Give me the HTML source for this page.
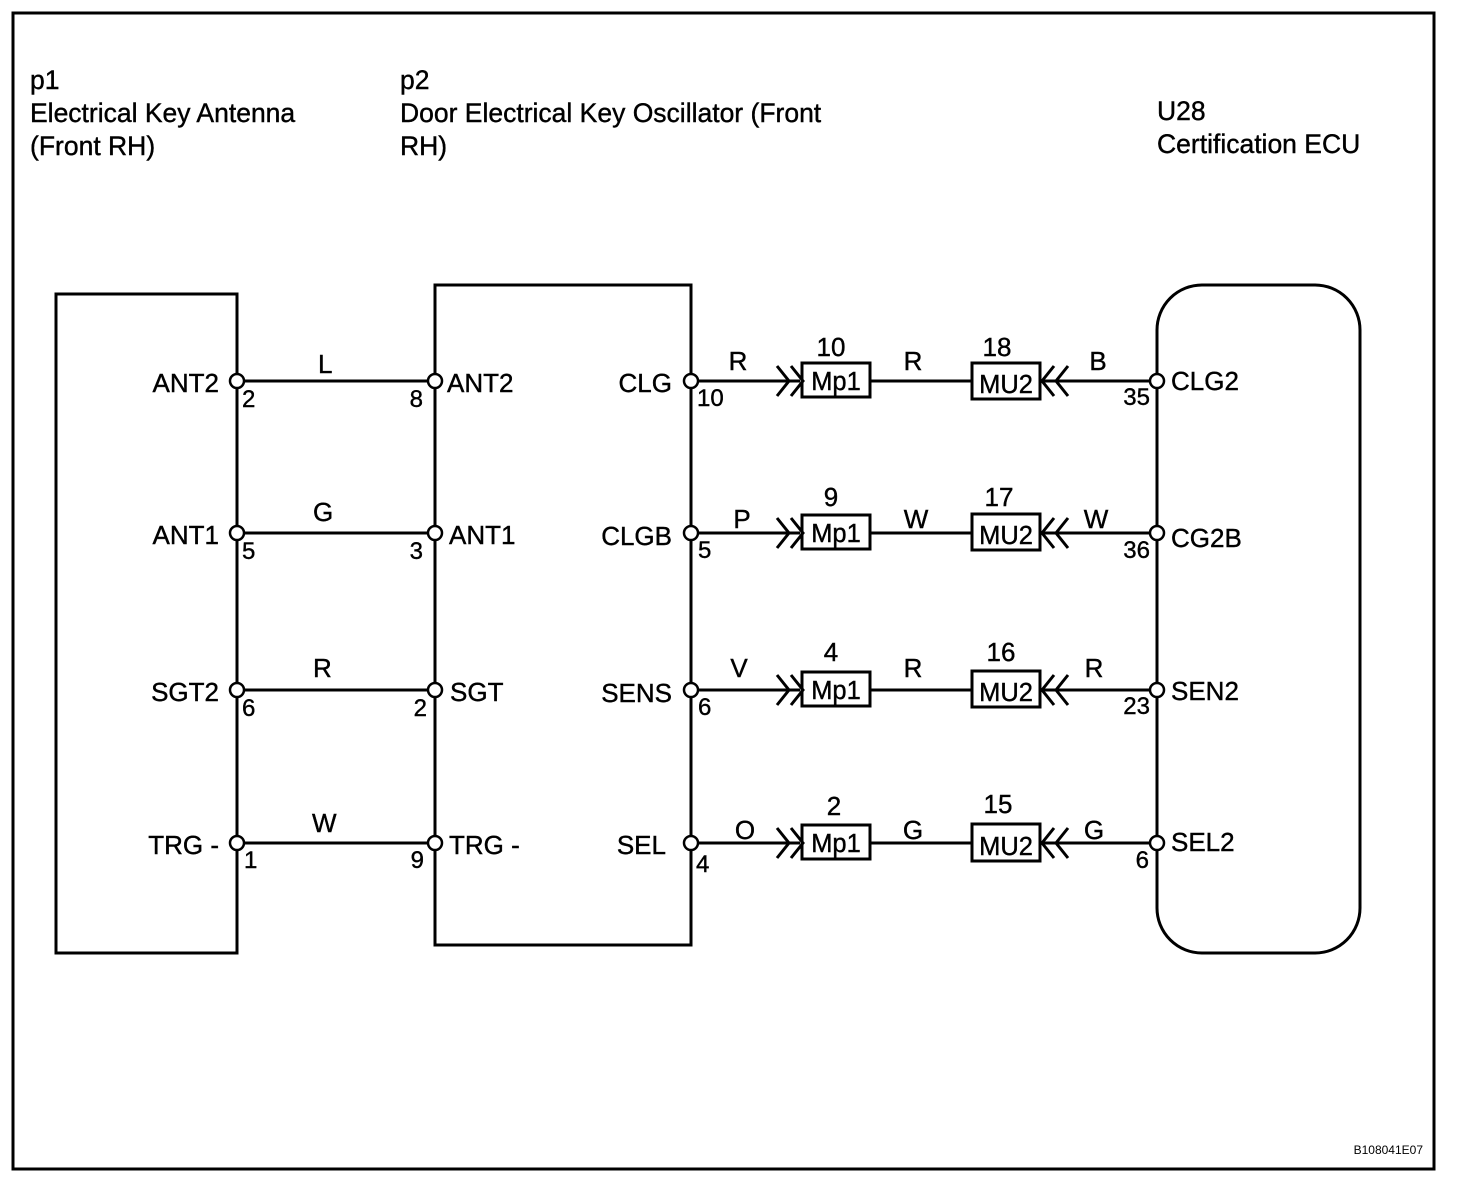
<!DOCTYPE html>
<html><head><meta charset="utf-8"><style>
html,body{margin:0;padding:0;background:#fff;}
svg{display:block;}
text{font-family:"Liberation Sans",Arial,sans-serif;fill:#000;stroke:#000;stroke-width:0.4;}
</style></head><body>
<svg width="1472" height="1190" viewBox="0 0 1472 1190" xmlns="http://www.w3.org/2000/svg">
<rect x="13" y="13" width="1421" height="1156" fill="none" stroke="#000" stroke-width="3"/>
<g font-size="26.5">
<text x="30" y="89">p1</text>
<text x="30" y="122">Electrical Key Antenna</text>
<text x="30" y="155">(Front RH)</text>
<text x="400" y="89">p2</text>
<text x="400" y="122">Door Electrical Key Oscillator (Front</text>
<text x="400" y="155">RH)</text>
<text x="1157" y="120">U28</text>
<text x="1157" y="153">Certification ECU</text>
</g>
<g fill="none" stroke="#000" stroke-width="3">
<rect x="56" y="294" width="181" height="659"/>
<rect x="435" y="285" width="256" height="660"/>
<rect x="1157" y="285" width="203" height="668" rx="45" ry="45"/>
</g>
<g stroke="#000" stroke-width="3" fill="none">
<line x1="237" y1="381" x2="435" y2="381"/>
<line x1="237" y1="533" x2="435" y2="533"/>
<line x1="237" y1="690" x2="435" y2="690"/>
<line x1="237" y1="843" x2="435" y2="843"/>
</g>
<g font-size="26">
<text x="318" y="373">L</text><text x="313" y="521">G</text><text x="313" y="677">R</text><text x="312" y="832">W</text>
<text x="219" y="392" text-anchor="end">ANT2</text>
<text x="219" y="544" text-anchor="end">ANT1</text>
<text x="219" y="701" text-anchor="end">SGT2</text>
<text x="219" y="854" text-anchor="end">TRG -</text>
<text x="447" y="392">ANT2</text>
<text x="449" y="544">ANT1</text>
<text x="450" y="701">SGT</text>
<text x="449" y="854">TRG -</text>
<text x="672" y="392" text-anchor="end">CLG</text>
<text x="672" y="545" text-anchor="end">CLGB</text>
<text x="672" y="702" text-anchor="end">SENS</text>
<text x="666" y="854" text-anchor="end">SEL</text>
<text x="1171" y="390">CLG2</text>
<text x="1171" y="547">CG2B</text>
<text x="1171" y="700">SEN2</text>
<text x="1171" y="851">SEL2</text>
</g>
<g font-size="24">
<text x="242" y="407">2</text><text x="242" y="559">5</text><text x="242" y="716">6</text><text x="244" y="868">1</text>
<text x="423" y="407" text-anchor="end">8</text><text x="423" y="559" text-anchor="end">3</text><text x="427" y="716" text-anchor="end">2</text><text x="424" y="868" text-anchor="end">9</text>
<text x="697" y="406">10</text><text x="698" y="558">5</text><text x="698" y="715">6</text><text x="696" y="872">4</text>
<text x="1150" y="405" text-anchor="end">35</text><text x="1150" y="558" text-anchor="end">36</text><text x="1150" y="714" text-anchor="end">23</text><text x="1149" y="868" text-anchor="end">6</text>
</g>
<g stroke="#000" stroke-width="3" fill="none">
<line x1="691" y1="381" x2="800" y2="381"/><line x1="870" y1="381" x2="972" y2="381"/><line x1="1042" y1="381" x2="1157" y2="381"/>
<polyline points="777,366 789,381 777,396"/><polyline points="791,366 803,381 791,396"/>
<polyline points="1054,366 1042,381 1054,396"/><polyline points="1068,366 1056,381 1068,396"/>
<rect x="802" y="363" width="68" height="34"/><rect x="972" y="363" width="68" height="36"/>

<line x1="691" y1="533" x2="800" y2="533"/><line x1="870" y1="533" x2="972" y2="533"/><line x1="1042" y1="533" x2="1157" y2="533"/>
<polyline points="777,518 789,533 777,548"/><polyline points="791,518 803,533 791,548"/>
<polyline points="1054,518 1042,533 1054,548"/><polyline points="1068,518 1056,533 1068,548"/>
<rect x="802" y="515" width="68" height="34"/><rect x="972" y="514" width="68" height="36"/>

<line x1="691" y1="690" x2="800" y2="690"/><line x1="870" y1="690" x2="972" y2="690"/><line x1="1042" y1="690" x2="1157" y2="690"/>
<polyline points="777,675 789,690 777,705"/><polyline points="791,675 803,690 791,705"/>
<polyline points="1054,675 1042,690 1054,705"/><polyline points="1068,675 1056,690 1068,705"/>
<rect x="802" y="672" width="68" height="34"/><rect x="972" y="671" width="68" height="36"/>

<line x1="691" y1="843" x2="800" y2="843"/><line x1="870" y1="843" x2="972" y2="843"/><line x1="1042" y1="843" x2="1157" y2="843"/>
<polyline points="777,828 789,843 777,858"/><polyline points="791,828 803,843 791,858"/>
<polyline points="1054,828 1042,843 1054,858"/><polyline points="1068,828 1056,843 1068,858"/>
<rect x="802" y="825" width="68" height="34"/><rect x="972" y="824" width="68" height="37"/>
</g>
<g font-size="25.5" text-anchor="middle">
<text x="836" y="390">Mp1</text><text x="1006" y="393">MU2</text>
<text x="836" y="542">Mp1</text><text x="1006" y="544">MU2</text>
<text x="836" y="699">Mp1</text><text x="1006" y="701">MU2</text>
<text x="836" y="852">Mp1</text><text x="1006" y="855">MU2</text>
</g>
<g font-size="26" text-anchor="middle">
<text x="831" y="356">10</text><text x="997" y="356">18</text>
<text x="831" y="506">9</text><text x="999" y="506">17</text>
<text x="831" y="661">4</text><text x="1001" y="661">16</text>
<text x="834" y="815">2</text><text x="998" y="813">15</text>
<text x="738" y="370">R</text><text x="913" y="370">R</text><text x="1098" y="370">B</text>
<text x="742" y="528">P</text><text x="916" y="528">W</text><text x="1096" y="528">W</text>
<text x="739" y="677">V</text><text x="913" y="677">R</text><text x="1094" y="677">R</text>
<text x="745" y="839">O</text><text x="913" y="839">G</text><text x="1094" y="839">G</text>
</g>
<g stroke="#000" stroke-width="2.5" fill="#fff">
<circle cx="237" cy="381" r="7"/><circle cx="237" cy="533" r="7"/><circle cx="237" cy="690" r="7"/><circle cx="237" cy="843" r="7"/>
<circle cx="435" cy="381" r="7"/><circle cx="435" cy="533" r="7"/><circle cx="435" cy="690" r="7"/><circle cx="435" cy="843" r="7"/>
<circle cx="691" cy="381" r="7"/><circle cx="691" cy="533" r="7"/><circle cx="691" cy="690" r="7"/><circle cx="691" cy="843" r="7"/>
<circle cx="1157" cy="381" r="7"/><circle cx="1157" cy="533" r="7"/><circle cx="1157" cy="690" r="7"/><circle cx="1157" cy="843" r="7"/>
</g>
<text x="1423" y="1154" font-size="12" text-anchor="end" style="stroke-width:0">B108041E07</text>
</svg>
</body></html>
